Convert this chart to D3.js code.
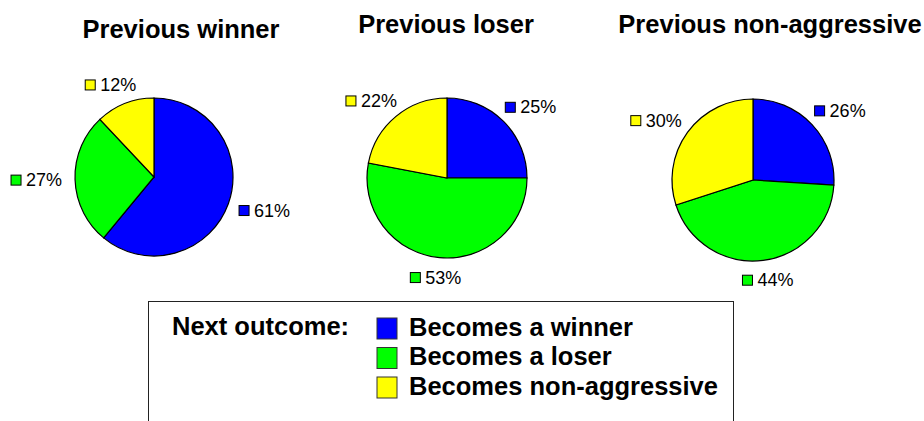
<!DOCTYPE html>
<html>
<head>
<meta charset="utf-8">
<script src="https://cdn.jsdelivr.net/npm/d3@7"></script>
<style>
  body { margin: 0; background: #fff; }
  svg { display: block; font-family: "Liberation Sans", Arial, sans-serif; }
</style>
</head>
<body>
<svg id="chart"></svg>
<script>
// data (percent of next outcome)
const panels = ["Previous winner", "Previous loser", "Previous non-aggressive"];
const outcomes = ["Becomes a winner", "Becomes a loser", "Becomes non-aggressive"];
const winnerPct = [61, 25, 26];
const loserPct = [27, 53, 44];
const nonAggPct = [12, 22, 30];

const colors = ["#0000ff", "#00ff00", "#ffff00"];

const width = 924,
  height = 421;

// layout of each panel
const pieCx = [154, 447, 753],
  pieCy = [177, 178, 180],
  pieR = [79, 80, 81],
  titleX = [181, 446, 770],
  titleY = [38, 33, 33];

const svg = d3.select("#chart").attr("width", width).attr("height", height);

const pie = d3
  .pie()
  .sort(null)
  .value(function(d) {
    return d.value;
  });

const color = d3.scaleOrdinal().domain(outcomes).range(colors);

panels.forEach(function(name, i) {
  const rows = outcomes.map(function(o, j) {
    return { key: o, value: [winnerPct, loserPct, nonAggPct][j][i] };
  });
  const r = pieR[i];
  const arc = d3.arc().innerRadius(0).outerRadius(r);
  const labelArc = d3.arc().innerRadius(r + 13).outerRadius(r + 13);

  svg
    .append("text")
    .attr("x", titleX[i])
    .attr("y", titleY[i])
    .attr("text-anchor", "middle")
    .style("font-weight", "bold")
    .style("font-size", "25.5px")
    .text(name);

  const g = svg
    .append("g")
    .attr("transform", "translate(" + pieCx[i] + "," + pieCy[i] + ")");

  const slices = pie(rows);

  g.selectAll("path")
    .data(slices)
    .enter()
    .append("path")
    .attr("d", arc)
    .attr("fill", function(d) {
      return color(d.data.key);
    })
    .attr("stroke", "#000")
    .attr("stroke-width", 1.2);

  const lab = g
    .selectAll("g.lab")
    .data(slices)
    .enter()
    .append("g")
    .attr("class", "lab");

  lab
    .append("rect")
    .attr("width", 10)
    .attr("height", 10)
    .attr("fill", function(d) {
      return color(d.data.key);
    })
    .attr("stroke", "#000")
    .attr("stroke-width", 1);

  lab
    .append("text")
    .attr("x", 15)
    .attr("y", 11)
    .style("font-size", "18px")
    .text(function(d) {
      return d.value + "%";
    });

  // push each label out along its slice's mid angle
  lab.attr("transform", function(d) {
    const w = 15 + this.querySelector("text").getComputedTextLength();
    const h = 14;
    const a = (d.startAngle + d.endAngle) / 2;
    const c = labelArc.centroid(d);
    const x = c[0] + (w / 2) * Math.sin(a) - w / 2;
    const y = c[1] - (h / 2) * Math.cos(a) - 5;
    return "translate(" + x + "," + y + ")";
  });
});

// legend
const legend = svg.append("g");

legend
  .append("rect")
  .attr("x", 148.5)
  .attr("y", 301.5)
  .attr("width", 585)
  .attr("height", 140)
  .attr("fill", "none")
  .attr("stroke", "#222")
  .attr("stroke-width", 1);

legend
  .append("text")
  .attr("x", 172)
  .attr("y", 335)
  .style("font-weight", "bold")
  .style("font-size", "25.5px")
  .text("Next outcome:");

const item = legend
  .selectAll("g.item")
  .data(outcomes)
  .enter()
  .append("g")
  .attr("class", "item")
  .attr("transform", function(d, i) {
    return "translate(377," + (318 + i * 29.5) + ")";
  });

item
  .append("rect")
  .attr("width", 20)
  .attr("height", 21)
  .attr("fill", function(d) {
    return color(d);
  })
  .attr("stroke", "#333")
  .attr("stroke-width", 1);

item
  .append("text")
  .attr("x", 32)
  .attr("y", 17.5)
  .style("font-weight", "bold")
  .style("font-size", "25.5px")
  .text(function(d) {
    return d;
  });
</script>
</body>
</html>
